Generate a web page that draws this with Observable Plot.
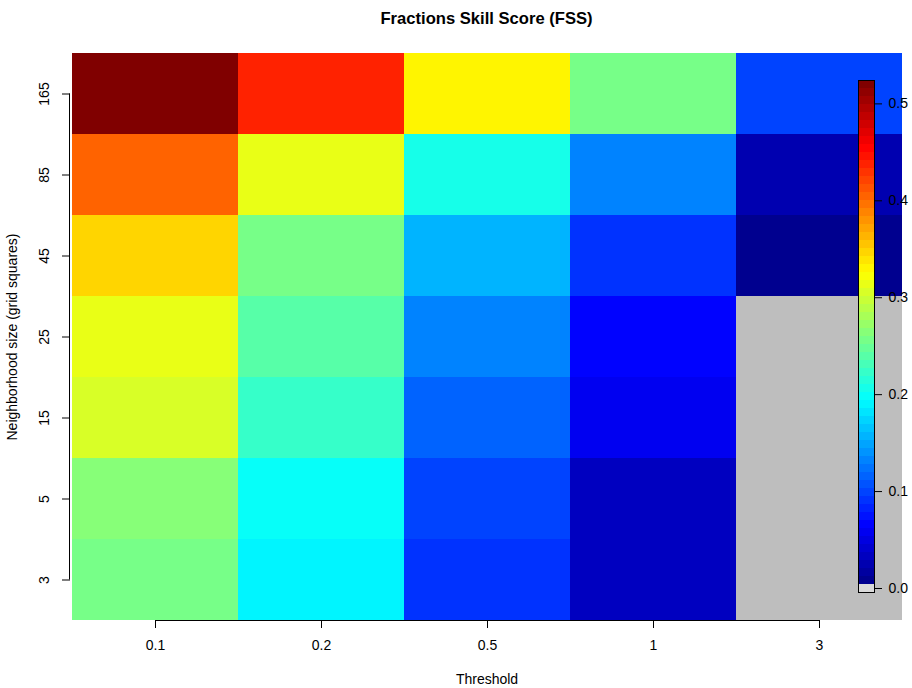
<!DOCTYPE html>
<html><head><meta charset="utf-8">
<script src="https://cdn.jsdelivr.net/npm/d3@7"></script>
<script src="https://cdn.jsdelivr.net/npm/@observablehq/plot@0.6"></script>
<style>
body{margin:0;background:#fff;font-family:"Liberation Sans",Arial,sans-serif;}
#wrap{position:relative;width:912px;height:688px;overflow:hidden;}
#title{position:absolute;left:70px;width:833px;top:0;height:38px;line-height:38px;text-align:center;font-weight:bold;font-size:16.6px;color:#000;}
#main{position:absolute;left:0;top:34px;}
#bar{position:absolute;left:858px;top:72px;}
</style></head><body>
<div id="wrap"><div id="title">Fractions Skill Score (FSS)</div><div id="main"></div><div id="bar"></div></div>
<script>
// Categories
const thresholds = ["0.1", "0.2", "0.5", "1", "3"];
const neighborhoods = ["3", "5", "15", "25", "45", "85", "165"];
// FSS per threshold, listed for neighborhoods 3, 5, 15, 25, 45, 85, 165 (0 = no skill, shown grey)
const fss_t0_1 = [0.255, 0.266, 0.305, 0.315, 0.345, 0.402, 0.520];
const fss_t0_2 = [0.191, 0.199, 0.223, 0.240, 0.255, 0.313, 0.435];
const fss_t0_5 = [0.092, 0.102, 0.118, 0.133, 0.158, 0.207, 0.329];
const fss_t1   = [0.036, 0.037, 0.061, 0.069, 0.093, 0.134, 0.256];
const fss_t3   = [0.000, 0.000, 0.000, 0.000, 0.012, 0.028, 0.104];
const colorbarTicks = [0, 0.1, 0.2, 0.3, 0.4, 0.5];

const series = [fss_t0_1, fss_t0_2, fss_t0_5, fss_t1, fss_t3];
const cells = [];
thresholds.forEach((t, i) => neighborhoods.forEach((n, j) => cells.push({threshold: t, size: n, fss: series[i][j]})));

const FONT = '"Liberation Sans", Arial, sans-serif';
const nlevel = 64;
const zmax = d3.max(cells, d => d.fss);
function jet(x) {
  const c = v => Math.max(0, Math.min(1, v));
  return d3.rgb(255 * c(1.5 - Math.abs(4 * x - 3)), 255 * c(1.5 - Math.abs(4 * x - 2)), 255 * c(1.5 - Math.abs(4 * x - 1))).formatHex();
}
// grey for zero, then 63 jet ("tim.colors") levels
const palette = d3.range(nlevel).map(k => k === 0 ? "#bebebe" : jet(1 / 64 + (k - 1) * (63 / 64) / 62));
const breaks = d3.range(1, nlevel).map(k => k * zmax / nlevel);

const chart = Plot.plot({
  width: 912, height: 654,
  marginTop: 19, marginBottom: 68, marginLeft: 70, marginRight: 9,
  style: {fontFamily: FONT, fontSize: "14px", color: "#000", background: "transparent"},
  x: {domain: thresholds, padding: 0, label: null},
  y: {domain: neighborhoods.slice().reverse(), padding: 0, label: null},
  color: {type: "threshold", domain: breaks, range: palette},
  marks: [
    Plot.cell(cells, {x: "threshold", y: "size", fill: "fss"}),
    Plot.axisX({tickSize: 8, tickPadding: 12, label: null}),
    Plot.axisY({tickSize: 8, tickFormat: () => "", label: null}),
    Plot.text(neighborhoods, {y: d => d, text: d => d, frameAnchor: "left", textAnchor: "middle", lineAnchor: "middle", rotate: -90, dx: -26}),
    Plot.text(["Threshold"], {text: d => d, frameAnchor: "bottom", dy: 63}),
    Plot.text(["Neighborhood size (grid squares)"], {text: d => d, frameAnchor: "left", textAnchor: "middle", dx: -58, rotate: -90})
  ]
});
document.getElementById("main").appendChild(chart);

// axis lines between first and last ticks (R style), positioned by Plot's scales
const sx = chart.scale("x"), sy = chart.scale("y");
const svg = d3.select(chart);
const xb = 654 - 68, yl = 70;
svg.append("line")
  .attr("x1", sx.apply(thresholds[0]) + sx.bandwidth / 2)
  .attr("x2", sx.apply(thresholds[thresholds.length - 1]) + sx.bandwidth / 2)
  .attr("y1", xb + 0.5).attr("y2", xb + 0.5).attr("stroke", "#000");
svg.append("line")
  .attr("y1", sy.apply(neighborhoods[0]) + sy.bandwidth / 2)
  .attr("y2", sy.apply(neighborhoods[neighborhoods.length - 1]) + sy.bandwidth / 2)
  .attr("x1", yl - 0.5).attr("x2", yl - 0.5).attr("stroke", "#000");

// colour bar
const step = zmax / (nlevel - 1);
const bins = palette.map((c, k) => ({lo: (k - 0.5) * step, hi: (k + 0.5) * step, color: k === 0 ? "#dadada" : c}));
const bar = Plot.plot({
  width: 54, height: 528,
  marginTop: 8, marginBottom: 8, marginLeft: 0, marginRight: 38,
  style: {fontFamily: FONT, fontSize: "14px", color: "#000", background: "transparent", overflow: "visible"},
  y: {domain: [-step / 2, zmax + step / 2]},
  marks: [
    Plot.rect(bins, {y1: "lo", y2: "hi", fill: "color"}),
    Plot.frame({stroke: "#000"}),
    Plot.axisY({anchor: "right", ticks: colorbarTicks, tickFormat: d3.format(".1f"), tickSize: 7, tickPadding: 7, label: null})
  ]
});
document.getElementById("bar").appendChild(bar);
</script>
</body></html>
